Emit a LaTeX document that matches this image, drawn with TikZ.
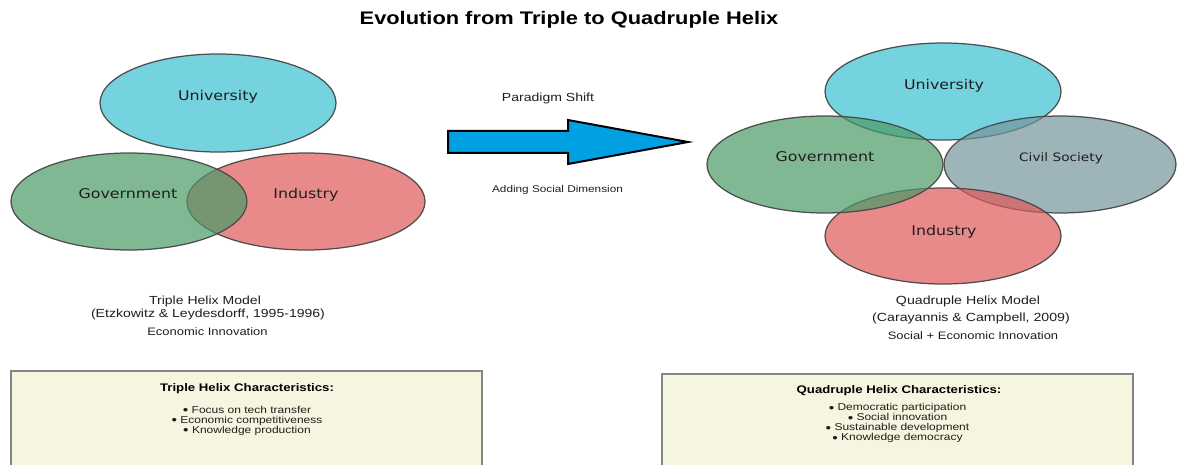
\documentclass[tikz,border=0pt]{standalone}
\usepackage{fontspec}
\setmainfont{Liberation Sans}[FakeStretch=1.2]
\newfontfamily\lbl{DejaVu Sans}[FakeStretch=1.18]
\usetikzlibrary{shapes.geometric}

\definecolor{univ}{RGB}{59,192,211}
\definecolor{govt}{RGB}{74,154,102}
\definecolor{indu}{RGB}{222,89,89}
\definecolor{civil}{RGB}{115,148,155}
\definecolor{arrowblue}{RGB}{0,160,226}
\definecolor{boxfill}{RGB}{245,245,224}
\definecolor{ink}{RGB}{30,30,30}

% list bullet, a little heavier than the text bullet, kept on the x-height
\newcommand{\dotmark}{\smash{\raisebox{-1.6pt}{\fontsize{13}{12}\selectfont•}}}

\tikzset{
  helix/.style={ellipse, draw=black!72, line width=1.25pt, fill opacity=0.7,
    draw opacity=0.95, inner sep=0pt},
  sector/.style={font=\lbl\fontsize{13.4}{15}\selectfont, text=ink, anchor=base, inner sep=0pt},
  caption/.style={font=\fontsize{11.7}{14}\selectfont, text=ink, anchor=base, inner sep=0pt},
  subcap/.style={font=\fontsize{10.8}{13}\selectfont, text=ink, anchor=base, inner sep=0pt},
  charbox/.style={draw=black!48, line width=1.2pt, fill=boxfill},
  boxhead/.style={font=\bfseries\fontsize{11}{13}\selectfont, text=black, anchor=base, inner sep=0pt},
  % multi-line list: the base anchor sits on the last line
  bulletlist/.style={font=\fontsize{10}{10}\selectfont, text=ink, align=center,
    anchor=base, inner sep=0pt},
}

\begin{document}
\begin{tikzpicture}[x=1pt, y=-1pt]
\useasboundingbox (0,0) rectangle (1177,465);
\clip (0,0) rectangle (1177,465);

% title
\node[anchor=base, inner sep=0pt, font=\bfseries\fontsize{18.2}{20}\selectfont] (title) at (569,25)
  {Evolution from Triple to Quadruple Helix};

% ---- triple helix ----
\node[helix, fill=univ, minimum width=236pt, minimum height=98pt] (tu) at (218,103) {};
\node[helix, fill=indu, minimum width=238pt, minimum height=97pt] (ti) at (306,201.5) {};
\node[helix, fill=govt, minimum width=236pt, minimum height=97pt] (tg) at (129,201.5) {};
\node[sector] (tul) at (218,101) {University};
\node[sector] (tgl) at (128,199) {Government};
\node[sector] (til) at (306,199) {Industry};

\node[caption] (tm) at (205,304) {Triple Helix Model};
\node[caption] (tc) at (208,317) {(Etzkowitz \& Leydesdorff, 1995-1996)};
\node[subcap] (te) at (207.5,335) {Economic Innovation};

% ---- paradigm shift arrow ----
\node[anchor=base, inner sep=0pt, font=\fontsize{11.7}{13}\selectfont, text=ink] (ps) at (548,102) {Paradigm Shift};
\draw[fill=arrowblue, draw=black, line width=2pt, miter limit=20]
  (448,131) -- (568,131) -- (568,120) -- (688,142) -- (568,164) -- (568,153) -- (448,153) -- cycle;
\node[anchor=base, inner sep=0pt, font=\fontsize{9.8}{12}\selectfont, text=ink] (asd) at (557.5,193) {Adding Social Dimension};

% ---- quadruple helix ----
\node[helix, fill=univ, minimum width=236pt, minimum height=97pt] (qu) at (943,91.5) {};
\node[helix, fill=civil, minimum width=232pt, minimum height=97pt] (qc) at (1060,164.5) {};
\node[helix, fill=indu, minimum width=236pt, minimum height=96pt] (qi) at (943,236) {};
\node[helix, fill=govt, minimum width=236pt, minimum height=97pt] (qg) at (825,164.5) {};
\node[sector] (qul) at (944,89.5) {University};
\node[sector] (qgl) at (825,162) {Government};
\node[sector, font=\lbl\fontsize{11.6}{14}\selectfont] (qcl) at (1061,162) {Civil Society};
\node[sector] (qil) at (944,235) {Industry};

\node[caption, font=\fontsize{11.8}{14}\selectfont] (qm) at (968,304) {Quadruple Helix Model};
\node[caption, font=\fontsize{11.8}{14}\selectfont] (qcit) at (971,321) {(Carayannis \& Campbell, 2009)};
\node[subcap] (qe) at (973,339) {Social + Economic Innovation};

% ---- characteristics boxes ----
\draw[charbox] (11,371) rectangle (482,480);
\node[boxhead] (th) at (247,391) {Triple Helix Characteristics:};
\node[bulletlist] (tlist) at (247,433)
  {\dotmark{} Focus on tech transfer\\
   \dotmark{} Economic competitiveness\\
   \dotmark{} Knowledge production};

\draw[charbox] (662,374) rectangle (1133,480);
\node[boxhead] (qh) at (899,393) {Quadruple Helix Characteristics:};
\node[bulletlist] (qlist) at (897.5,440.5)
  {\dotmark{} Democratic participation\\
   \dotmark{} Social innovation\\
   \dotmark{} Sustainable development\\
   \dotmark{} Knowledge democracy};
\end{tikzpicture}
\end{document}
